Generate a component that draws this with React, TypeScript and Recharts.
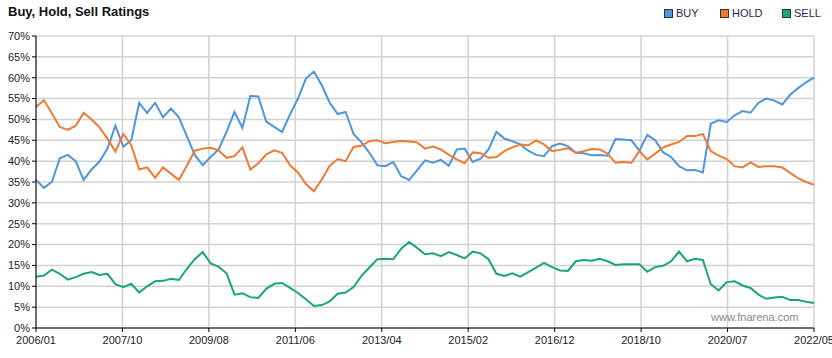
import React from 'react'
import {
  LineChart,
  Line,
  XAxis,
  YAxis,
  CartesianGrid
} from 'recharts'

// sampled every 2 months starting 2006/01
const buy = [
  35.5, 33.6, 35.0, 40.7, 41.5, 40.0, 35.5, 38.0, 39.9, 43.0,
  48.5, 43.5, 45.0, 54.0, 51.5, 54.0, 50.5, 52.6, 50.5, 46.0,
  41.5, 39.0, 41.0, 42.8, 47.0, 51.8, 48.0, 55.6, 55.5, 49.5,
  48.2, 47.0, 51.2, 55.0, 59.8, 61.5, 58.2, 54.0, 51.3, 51.8,
  46.5, 44.5, 42.0, 39.0, 38.8, 39.8, 36.4, 35.5, 37.8, 40.2,
  39.6, 40.3, 38.9, 42.8, 43.0, 39.8, 40.6, 42.8, 47.0, 45.4,
  44.8, 44.0, 42.5, 41.5, 41.2, 43.6, 44.2, 43.6, 42.0, 41.9,
  41.4, 41.5, 41.3, 45.3, 45.2, 45.0, 42.5, 46.3, 45.0, 42.1,
  41.0, 38.8, 37.8, 37.9, 37.3, 49.0, 49.8, 49.4, 51.0, 52.0,
  51.6, 54.0, 55.0, 54.5, 53.6, 55.9, 57.5, 58.9, 60.0
]

const hold = [
  53.0, 54.6, 51.5, 48.2, 47.5, 48.5, 51.6, 50.0, 48.1, 45.4,
  42.3, 46.5, 43.8, 38.0, 38.5, 36.0, 38.5, 37.0, 35.5, 38.9,
  42.5, 43.0, 43.2, 42.6, 40.8, 41.2, 43.3, 38.0, 39.5, 41.6,
  42.6, 42.0, 39.0, 37.3, 34.5, 32.8, 35.6, 38.9, 40.5, 40.0,
  43.4, 43.7, 44.8, 45.0, 44.3, 44.6, 44.8, 44.7, 44.5, 43.0,
  43.5, 42.8, 41.5, 40.4, 39.5, 42.1, 41.9, 40.8, 41.0, 42.4,
  43.3, 44.0, 43.8, 45.0, 44.0, 42.4, 42.7, 43.1, 42.0, 42.4,
  42.9, 42.8, 41.8, 39.6, 39.8, 39.6, 42.4, 40.4, 41.8, 43.3,
  44.0, 44.6, 46.0, 46.0, 46.5, 42.4, 41.3, 40.5, 38.8, 38.5,
  39.7, 38.6, 38.8, 38.8, 38.5, 37.2, 35.9, 35.0, 34.3
]

const sell = [
  12.3, 12.6, 14.0, 13.0, 11.6, 12.2, 13.0, 13.4, 12.7, 13.0,
  10.5, 9.8, 10.6, 8.5, 10.0, 11.2, 11.3, 11.8, 11.5, 14.2,
  16.5, 18.2, 15.5, 14.7, 13.1, 8.0, 8.3, 7.4, 7.2, 9.4,
  10.6, 10.8, 9.6, 8.4, 6.9, 5.3, 5.5, 6.4, 8.2, 8.5,
  9.8, 12.5, 14.5, 16.5, 16.6, 16.5, 19.0, 20.6, 19.2, 17.7,
  17.9, 17.2, 18.2, 17.5, 16.7, 18.3, 17.9, 16.5, 13.0, 12.5,
  13.1, 12.3, 13.4, 14.5, 15.6, 14.6, 13.8, 13.7, 16.0, 16.3,
  16.1, 16.6, 16.0, 15.1, 15.3, 15.3, 15.3, 13.5, 14.6, 14.9,
  16.0, 18.3, 16.0, 16.6, 16.3, 10.5, 9.0, 11.0, 11.2, 10.2,
  9.6, 8.0, 7.0, 7.3, 7.5, 6.7, 6.7, 6.3, 6.0
]

const xLabels = [
  '2006/01', '2007/10', '2009/08', '2011/06', '2013/04',
  '2015/02', '2016/12', '2018/10', '2020/07', '2022/05'
]
const yTicks = [0, 5, 10, 15, 20, 25, 30, 35, 40, 45, 50, 55, 60, 65, 70]

const LAST_MONTH = 196
const xTicks = xLabels.map((_, i) => (i * LAST_MONTH) / (xLabels.length - 1))

const data = buy.map((b, i) => ({
  m: i * 2,
  BUY: b,
  HOLD: hold[i],
  SELL: sell[i]
}))

const COLORS = { BUY: '#4f95dc', HOLD: '#ef7a34', SELL: '#1ba676' }
const FONT = 'Arial, "Liberation Sans", sans-serif'

function LegendItem ({ name, color, left }: { name: string, color: string, left: number }) {
  return (
    <div style={{ position: 'absolute', left, top: 7, display: 'flex', alignItems: 'center', fontSize: 11, color: '#1e2a4a' }}>
      <span style={{ width: 7, height: 7, background: color, border: '1px solid #333', marginRight: 3 }} />
      {name}
    </div>
  )
}

export default function App () {
  return (
    <div style={{ position: 'absolute', left: 0, top: 0, width: 832, height: 358, background: '#fff', fontFamily: FONT, overflow: 'hidden' }}>
      <div style={{ position: 'absolute', left: 8, top: 4, fontSize: 13, fontWeight: 'bold', color: '#111' }}>
        Buy, Hold, Sell Ratings
      </div>
      <LegendItem name='BUY' color={COLORS.BUY} left={664} />
      <LegendItem name='HOLD' color={COLORS.HOLD} left={720} />
      <LegendItem name='SELL' color={COLORS.SELL} left={782} />

      <LineChart width={832} height={358} data={data} margin={{ top: 36, right: 18, bottom: 0, left: 8 }}>
        <CartesianGrid stroke='#d2d2d2' strokeWidth={1.5} />
        <XAxis
          dataKey='m'
          type='number'
          domain={[0, LAST_MONTH]}
          ticks={xTicks}
          interval={0}
          height={30}
          tickFormatter={(_, i) => xLabels[i]}
          stroke='#000'
          tickSize={4}
          tickMargin={4}
          tick={{ fontSize: 11, fill: '#222', fontFamily: FONT }}
        />
        <YAxis
          domain={[0, 70]}
          ticks={yTicks}
          interval={0}
          width={28}
          tickFormatter={v => `${v}%`}
          stroke='#000'
          tickSize={4}
          tickMargin={2}
          tick={{ fontSize: 11, fill: '#222', fontFamily: FONT }}
        />
        <Line type='linear' dataKey='BUY' stroke={COLORS.BUY} strokeWidth={2} dot={false} isAnimationActive={false} />
        <Line type='linear' dataKey='HOLD' stroke={COLORS.HOLD} strokeWidth={2} dot={false} isAnimationActive={false} />
        <Line type='linear' dataKey='SELL' stroke={COLORS.SELL} strokeWidth={2} dot={false} isAnimationActive={false} />
      </LineChart>

      <div style={{ position: 'absolute', left: 711, top: 311, fontSize: 11, color: '#888' }}>
        www.fnarena.com
      </div>
    </div>
  )
}
